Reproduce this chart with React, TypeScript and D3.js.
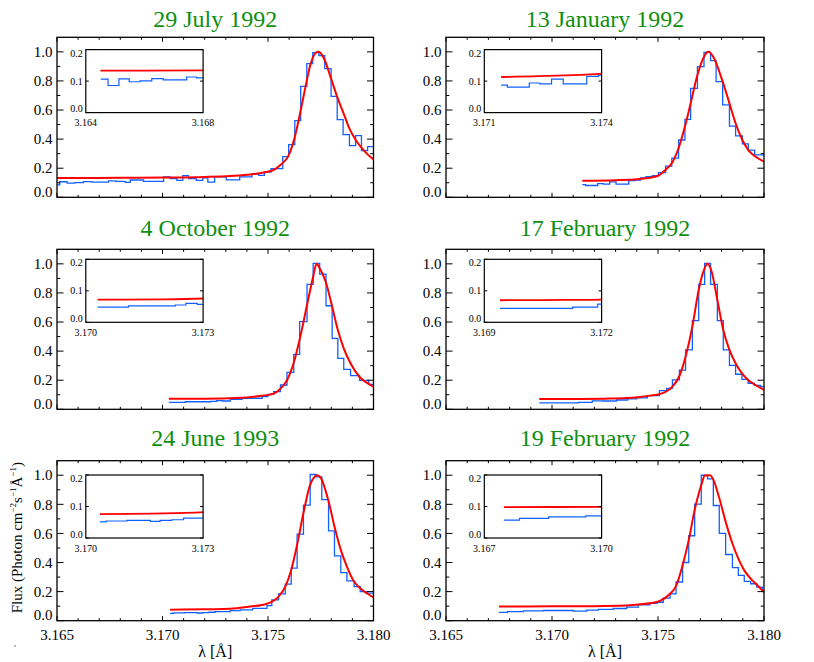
import React from "react";
import * as d3 from "d3";

// ---------- text ----------
const titles = [
  "29 July 1992",
  "13 January 1992",
  "4 October 1992",
  "17 February 1992",
  "24 June 1993",
  "19 February 1992",
];
const insetRanges: [number, number][] = [
  [3.164, 3.168],
  [3.171, 3.174],
  [3.17, 3.173],
  [3.169, 3.172],
  [3.17, 3.173],
  [3.167, 3.17],
];
const xMajorTicks = [3.165, 3.17, 3.175, 3.18];
const yMajorTicks = [0, 0.2, 0.4, 0.6, 0.8, 1.0];
const insetYTicks = [0, 0.1, 0.2];

// ---------- data: observed histogram (bin edges, flux) and model (wavelength, flux) ----------
const jul92Edges = [3.16451, 3.16476, 3.16513, 3.16548, 3.16585, 3.16625, 3.16664, 3.16744, 3.16778, 3.16823, 3.16847, 3.1691, 3.17005, 3.17036, 3.17068, 3.17096, 3.17123, 3.1716, 3.17191, 3.17215, 3.17247, 3.17302, 3.17366, 3.17424, 3.17456, 3.17483, 3.17514, 3.1757, 3.17598, 3.17627, 3.17655, 3.17684, 3.17712, 3.17741, 3.17769, 3.17799, 3.17828, 3.17856, 3.17886, 3.17915, 3.17943, 3.17972, 3.1805];
const jul92Flux = [0.106, 0.086, 0.107, 0.098, 0.101, 0.108, 0.104, 0.113, 0.11, 0.103, 0.119, 0.11, 0.14, 0.128, 0.117, 0.149, 0.128, 0.117, 0.133, 0.105, 0.14, 0.12, 0.14, 0.16, 0.151, 0.174, 0.197, 0.28, 0.362, 0.527, 0.763, 0.919, 0.994, 0.974, 0.884, 0.694, 0.534, 0.431, 0.355, 0.424, 0.321, 0.348];
const jul92ModelWl = [3.1645, 3.166, 3.168, 3.17, 3.172, 3.1732, 3.174, 3.1748, 3.1753, 3.17557, 3.17598, 3.17627, 3.17655, 3.17684, 3.177, 3.17727, 3.17738, 3.17749, 3.17769, 3.17799, 3.17828, 3.17856, 3.17886, 3.17915, 3.17943, 3.17972, 3.18];
const jul92ModelFlux = [0.133, 0.133, 0.134, 0.136, 0.14, 0.146, 0.155, 0.17, 0.19, 0.22, 0.288, 0.415, 0.598, 0.804, 0.907, 0.994, 1.0, 0.992, 0.942, 0.816, 0.69, 0.586, 0.472, 0.396, 0.341, 0.295, 0.261];

const jan92Edges = [3.17143, 3.17159, 3.17215, 3.17242, 3.17272, 3.17302, 3.17362, 3.17392, 3.17418, 3.17443, 3.17473, 3.17502, 3.17536, 3.17565, 3.17597, 3.17627, 3.17654, 3.17686, 3.17717, 3.17748, 3.17774, 3.17805, 3.17837, 3.17866, 3.17898, 3.17926, 3.17956, 3.1805];
const jan92Flux = [0.087, 0.081, 0.094, 0.091, 0.106, 0.091, 0.115, 0.119, 0.133, 0.142, 0.149, 0.17, 0.215, 0.27, 0.394, 0.536, 0.749, 0.898, 0.997, 0.939, 0.795, 0.635, 0.49, 0.422, 0.367, 0.325, 0.291];
const jan92ModelWl = [3.17143, 3.173, 3.174, 3.17443, 3.175, 3.17536, 3.17565, 3.17597, 3.17627, 3.17654, 3.17686, 3.17717, 3.17737, 3.1776, 3.17805, 3.17837, 3.17866, 3.17898, 3.17926, 3.17956, 3.18];
const jan92ModelFlux = [0.113, 0.118, 0.124, 0.131, 0.148, 0.19, 0.234, 0.337, 0.486, 0.646, 0.841, 0.967, 1.0, 0.967, 0.795, 0.646, 0.509, 0.394, 0.325, 0.284, 0.245];

const oct92Edges = [3.1703, 3.17109, 3.17229, 3.17256, 3.17285, 3.17321, 3.17377, 3.17472, 3.175, 3.17527, 3.17559, 3.1759, 3.17622, 3.1765, 3.17685, 3.17714, 3.17745, 3.17775, 3.17804, 3.17831, 3.17859, 3.17891, 3.17934, 3.17977, 3.1805];
const oct92Flux = [0.048, 0.052, 0.055, 0.06, 0.057, 0.069, 0.076, 0.087, 0.103, 0.121, 0.167, 0.254, 0.378, 0.603, 0.859, 1.003, 0.93, 0.712, 0.488, 0.35, 0.275, 0.231, 0.199, 0.172];
const oct92ModelWl = [3.1703, 3.172, 3.1735, 3.1745, 3.17527, 3.17559, 3.1759, 3.17622, 3.1765, 3.17685, 3.17714, 3.1773, 3.17745, 3.17775, 3.17804, 3.17831, 3.17859, 3.17891, 3.17934, 3.17977, 3.18];
const oct92ModelFlux = [0.072, 0.073, 0.078, 0.09, 0.108, 0.142, 0.2, 0.32, 0.48, 0.717, 0.912, 1.0, 0.969, 0.87, 0.706, 0.545, 0.419, 0.316, 0.222, 0.175, 0.155];

const feb17Edges = [3.1694, 3.17126, 3.1719, 3.17239, 3.17305, 3.17357, 3.174, 3.1745, 3.17507, 3.17541, 3.17568, 3.17601, 3.1763, 3.17662, 3.17692, 3.1772, 3.17748, 3.1778, 3.17808, 3.17837, 3.17866, 3.17896, 3.17925, 3.17954, 3.17984, 3.1805];
const feb17Flux = [0.044, 0.048, 0.058, 0.057, 0.064, 0.071, 0.078, 0.094, 0.128, 0.144, 0.202, 0.27, 0.408, 0.609, 0.859, 1.003, 0.859, 0.609, 0.408, 0.302, 0.241, 0.206, 0.179, 0.165, 0.156];
const feb17ModelWl = [3.1694, 3.171, 3.1725, 3.1735, 3.17415, 3.17462, 3.17509, 3.17541, 3.17568, 3.17601, 3.1763, 3.17662, 3.17692, 3.17714, 3.17733, 3.17753, 3.1778, 3.17808, 3.17837, 3.17866, 3.17896, 3.17925, 3.17954, 3.18];
const feb17ModelFlux = [0.07, 0.071, 0.073, 0.077, 0.085, 0.094, 0.105, 0.124, 0.156, 0.229, 0.362, 0.568, 0.82, 0.946, 1.0, 0.946, 0.751, 0.545, 0.408, 0.316, 0.247, 0.202, 0.172, 0.133];

const jun93Edges = [3.17036, 3.17052, 3.17105, 3.17165, 3.1719, 3.1722, 3.1725, 3.17321, 3.17368, 3.17427, 3.17495, 3.17518, 3.1755, 3.17582, 3.1761, 3.17638, 3.17668, 3.177, 3.17728, 3.17755, 3.17787, 3.17815, 3.17845, 3.17874, 3.17908, 3.17937, 3.17968, 3.1805];
const jun93Flux = [0.051, 0.054, 0.056, 0.053, 0.056, 0.058, 0.063, 0.069, 0.074, 0.085, 0.103, 0.143, 0.184, 0.251, 0.361, 0.595, 0.795, 1.005, 0.989, 0.832, 0.618, 0.446, 0.331, 0.274, 0.234, 0.2, 0.189];
const jun93ModelWl = [3.17036, 3.172, 3.1735, 3.17416, 3.17495, 3.1755, 3.17582, 3.1761, 3.17638, 3.17668, 3.177, 3.17735, 3.1775, 3.17787, 3.17815, 3.17845, 3.17874, 3.17908, 3.17937, 3.17968, 3.18];
const jun93ModelFlux = [0.076, 0.078, 0.086, 0.097, 0.117, 0.166, 0.234, 0.349, 0.522, 0.74, 0.936, 1.0, 0.982, 0.821, 0.648, 0.487, 0.372, 0.269, 0.223, 0.189, 0.161];

const feb19Edges = [3.1675, 3.1679, 3.16865, 3.1696, 3.17101, 3.17164, 3.17219, 3.17289, 3.17352, 3.17407, 3.17462, 3.17497, 3.17525, 3.17557, 3.17585, 3.17616, 3.17645, 3.17673, 3.17704, 3.17734, 3.17761, 3.17789, 3.17819, 3.17851, 3.17879, 3.17907, 3.17937, 3.17966, 3.17992, 3.1805];
const feb19Flux = [0.057, 0.062, 0.067, 0.07, 0.066, 0.073, 0.078, 0.084, 0.094, 0.109, 0.12, 0.127, 0.155, 0.185, 0.266, 0.4, 0.584, 0.801, 1.0, 0.975, 0.792, 0.6, 0.455, 0.365, 0.312, 0.27, 0.254, 0.231, 0.203];
const feb19ModelWl = [3.1675, 3.17, 3.172, 3.1735, 3.17415, 3.17462, 3.17509, 3.17557, 3.17585, 3.17616, 3.17645, 3.17673, 3.17704, 3.17721, 3.17745, 3.17761, 3.17789, 3.17819, 3.17851, 3.17879, 3.17907, 3.17937, 3.17966, 3.18];
const feb19ModelFlux = [0.098, 0.099, 0.1, 0.104, 0.113, 0.12, 0.136, 0.185, 0.238, 0.381, 0.554, 0.762, 0.931, 0.998, 1.0, 0.97, 0.843, 0.681, 0.531, 0.427, 0.346, 0.289, 0.247, 0.196];

const panelEdges = [jul92Edges, jan92Edges, oct92Edges, feb17Edges, jun93Edges, feb19Edges];
const panelFlux = [jul92Flux, jan92Flux, oct92Flux, feb17Flux, jun93Flux, feb19Flux];
const panelModelWl = [jul92ModelWl, jan92ModelWl, oct92ModelWl, feb17ModelWl, jun93ModelWl, feb19ModelWl];
const panelModelFlux = [jul92ModelFlux, jan92ModelFlux, oct92ModelFlux, feb17ModelFlux, jun93ModelFlux, feb19ModelFlux];

// ---------- layout ----------
const W = 814;
const H = 662;
const colLeft = [57, 446];
const colWidth = [316.5, 318];
const rowTop = [37.3, 249.3, 460.7];
const plotH = 160;
const titleBase = [26.5, 236, 445.7];
const insetDx = [28.8, 38.3];
const insetTop = [49.6, 259.3, 475];
const insetW = 117.3;
const insetH = 63;

const FONT = "'Liberation Serif', 'Times New Roman', serif";
const GREEN = "#0f8f0f";
const BLUE = "#1060ff";
const RED = "#ff0000";

function histPoints(edges: number[], flux: number[]): [number, number][] {
  const pts: [number, number][] = flux.map((f, i) => [edges[i], f]);
  pts.push([edges[edges.length - 1], flux[flux.length - 1]]);
  return pts;
}

function Panel({ i }: { i: number }) {
  const col = i % 2;
  const row = Math.floor(i / 2);
  const x0 = colLeft[col];
  const w = colWidth[col];
  const y0 = rowTop[row];
  const x = d3.scaleLinear().domain([3.165, 3.18]).range([x0, x0 + w]);
  const y = d3.scaleLinear().domain([0, 1.1]).range([y0 + plotH, y0]);

  const hist = histPoints(panelEdges[i], panelFlux[i]);
  const model: [number, number][] = panelModelWl[i].map((l, k) => [l, panelModelFlux[i][k]]);

  const histLine = d3
    .line<[number, number]>()
    .x((d) => x(d[0]))
    .y((d) => y(d[1]))
    .curve(d3.curveStepAfter);
  const modelLine = d3
    .line<[number, number]>()
    .x((d) => x(d[0]))
    .y((d) => y(d[1]))
    .curve(d3.curveMonotoneX);

  // inset scales
  const ix0 = x0 + insetDx[col];
  const iy0 = insetTop[row];
  const ix = d3.scaleLinear().domain(insetRanges[i]).range([ix0, ix0 + insetW]);
  const iy = d3.scaleLinear().domain([0, 0.2]).range([iy0 + insetH, iy0]);
  const iHist = d3
    .line<[number, number]>()
    .x((d) => ix(d[0]))
    .y((d) => iy(d[1]))
    .curve(d3.curveStepAfter);
  const iModel = d3
    .line<[number, number]>()
    .x((d) => ix(d[0]))
    .y((d) => iy(d[1]))
    .curve(d3.curveMonotoneX);

  const xMinor = d3.range(0, 16).map((k) => 3.165 + k * 0.001);
  const yMinor = d3.range(0, 11).map((k) => k * 0.1);
  const isXMajor = (v: number) => xMajorTicks.some((m) => Math.abs(m - v) < 1e-7);
  const isYMajor = (v: number) => yMajorTicks.some((m) => Math.abs(m - v) < 1e-7);

  const clipId = `clip-${i}`;
  const iClipId = `iclip-${i}`;
  const bottom = y0 + plotH;

  return (
    <g>
      <defs>
        <clipPath id={clipId}>
          <rect x={x0} y={y0} width={w} height={plotH} />
        </clipPath>
        <clipPath id={iClipId}>
          <rect x={ix0} y={iy0} width={insetW} height={insetH} />
        </clipPath>
      </defs>
      <text x={x0 + w / 2} y={titleBase[row]} textAnchor="middle" fontFamily={FONT} fontSize={24} fill={GREEN}>
        {titles[i]}
      </text>

      {/* data */}
      <g clipPath={`url(#${clipId})`}>
        <path d={histLine(hist) || ""} fill="none" stroke={BLUE} strokeWidth={1.3} />
        <path d={modelLine(model) || ""} fill="none" stroke={RED} strokeWidth={2} />
      </g>

      {/* ticks */}
      {xMinor.map((v, k) => {
        const len = isXMajor(v) ? 4.5 : 2.5;
        return (
          <g key={`xt${k}`} stroke="#000" strokeWidth={1}>
            <line x1={x(v)} x2={x(v)} y1={bottom} y2={bottom - len} />
            <line x1={x(v)} x2={x(v)} y1={y0} y2={y0 + len} />
          </g>
        );
      })}
      {yMinor.map((v, k) => {
        const len = isYMajor(v) ? 6.5 : 3.3;
        return (
          <g key={`yt${k}`} stroke="#000" strokeWidth={1}>
            <line x1={x0} x2={x0 + len} y1={y(v)} y2={y(v)} />
            <line x1={x0 + w} x2={x0 + w - len} y1={y(v)} y2={y(v)} />
          </g>
        );
      })}
      <rect x={x0} y={y0} width={w} height={plotH} fill="none" stroke="#000" strokeWidth={1.3} />

      {/* y labels */}
      {yMajorTicks.map((v) => (
        <text
          key={`yl${v}`}
          x={x0 - 4.5}
          y={v === 0 ? bottom - 0.3 : y(v) + 5.2}
          textAnchor="end"
          fontFamily={FONT}
          fontSize={15}
          fill="#000"
        >
          {v.toFixed(1)}
        </text>
      ))}

      {/* x labels (bottom row only) */}
      {row === 2 &&
        xMajorTicks.map((v) => (
          <text key={`xl${v}`} x={x(v)} y={bottom + 19.5} textAnchor="middle" fontFamily={FONT} fontSize={15} fill="#000">
            {v.toFixed(3)}
          </text>
        ))}

      {/* inset */}
      <rect x={ix0} y={iy0} width={insetW} height={insetH} fill="#fff" stroke="none" />
      <g clipPath={`url(#${iClipId})`}>
        <path d={iHist(hist) || ""} fill="none" stroke={BLUE} strokeWidth={1.2} />
        <path d={iModel(model) || ""} fill="none" stroke={RED} strokeWidth={1.8} />
      </g>
      {insetYTicks.map((v) => (
        <g key={`iyt${v}`} stroke="#000" strokeWidth={1}>
          <line x1={ix0} x2={ix0 + 3} y1={iy(v)} y2={iy(v)} />
          <line x1={ix0 + insetW} x2={ix0 + insetW - 3} y1={iy(v)} y2={iy(v)} />
        </g>
      ))}
      <rect x={ix0} y={iy0} width={insetW} height={insetH} fill="none" stroke="#000" strokeWidth={1.2} />
      {insetYTicks.map((v) => (
        <text
          key={`iyl${v}`}
          x={ix0 - 3}
          y={v === 0 ? iy0 + insetH - 0.3 : v === 0.2 ? iy0 + 7 : iy(v) + 3.5}
          textAnchor="end"
          fontFamily={FONT}
          fontSize={10}
          fill="#000"
        >
          {v.toFixed(1)}
        </text>
      ))}
      {insetRanges[i].map((v, k) => (
        <text key={`ixl${k}`} x={ix(v)} y={iy0 + insetH + 13.5} textAnchor="middle" fontFamily={FONT} fontSize={10} fill="#000">
          {v.toFixed(3)}
        </text>
      ))}
    </g>
  );
}

export default function App() {
  const yTitleY = rowTop[2] + plotH / 2 - 3;
  return (
    <svg
      width={W}
      height={H}
      viewBox={`0 0 ${W} ${H}`}
      style={{ position: "absolute", left: 0, top: 0, background: "#fff" }}
    >
      <rect x={0} y={0} width={W} height={H} fill="#fff" />
      {titles.map((_, i) => (
        <Panel key={i} i={i} />
      ))}
      <text
        transform={`translate(22,${yTitleY}) rotate(-90)`}
        textAnchor="middle"
        fontFamily={FONT}
        fontSize={15}
        fill="#000"
      >
        <tspan>Flux (Photon cm</tspan>
        <tspan fontSize={9} dy={-6}>−2</tspan>
        <tspan dy={6}>s</tspan>
        <tspan fontSize={9} dy={-6}>−1</tspan>
        <tspan dy={6}>Å</tspan>
        <tspan fontSize={9} dy={-6}>−1</tspan>
        <tspan dy={6}>)</tspan>
      </text>
      {[0, 1].map((c) => (
        <text
          key={`xt${c}`}
          x={colLeft[c] + colWidth[c] / 2}
          y={656.5}
          textAnchor="middle"
          fontFamily={FONT}
          fontSize={16}
          fill="#000"
        >
          λ [Å]
        </text>
      ))}
      <circle cx={15} cy={646} r={0.7} fill="#444" />
    </svg>
  );
}
